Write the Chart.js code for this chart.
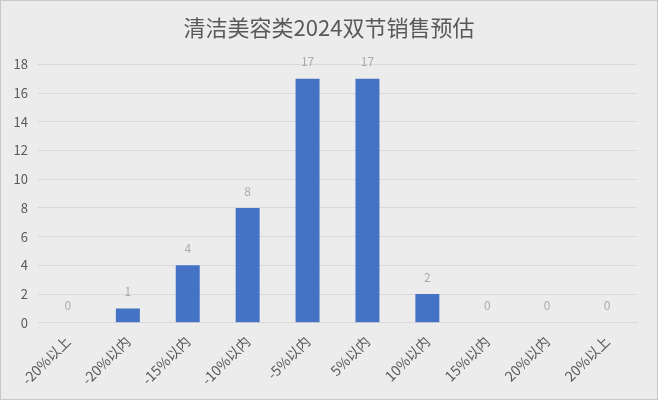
<!DOCTYPE html>
<html>
<head>
<meta charset="utf-8">
<script src="https://cdn.jsdelivr.net/npm/chart.js@4.4.0/dist/chart.umd.min.js"></script>
<style>
    html, body { margin: 0; padding: 0; background: #ececec; }
    #box { width: 656px; height: 398px; border: 1px solid #c8c8c8; background: #ececec; }
</style>
</head>
<body>
<div id="box"><canvas id="vendas"></canvas></div>
<script>
const categorias = ["-20%以上", "-20%以内", "-15%以内", "-10%以内", "-5%以内", "5%以内", "10%以内", "15%以内", "20%以内", "20%以上"];
const quantidades = [0, 1, 4, 8, 17, 17, 2, 0, 0, 0];
const ticksY = [0, 2, 4, 6, 8, 10, 12, 14, 16, 18];

const fonte = "'Noto Sans CJK SC', 'Noto Sans', sans-serif";

// rótulos acima das barras
const rotulos = {
    id: "rotulos",
    afterDatasetsDraw(chart) {
        const ctx = chart.ctx;
        const meta = chart.getDatasetMeta(0);
        ctx.save();
        ctx.font = "12px " + fonte;
        ctx.fillStyle = "#ababab";
        ctx.textAlign = "center";
        ctx.textBaseline = "middle";
        meta.data.forEach((barra, i) => {
            ctx.fillText(String(quantidades[i]), barra.x, barra.y - 17);
        });
        ctx.restore();
    }
};

new Chart(document.getElementById("vendas"), {
    type: "bar",
    data: {
        labels: categorias,
        datasets: [{
            data: quantidades,
            backgroundColor: "#4472c4",
            categoryPercentage: 1,
            barPercentage: 0.4
        }]
    },
    options: {
        responsive: true,
        maintainAspectRatio: false,
        animation: false,
        devicePixelRatio: 1,
        layout: { padding: { left: 0, right: 0, top: 8, bottom: 9 } },
        plugins: {
            legend: { display: false },
            tooltip: { enabled: false },
            title: {
                display: true,
                text: "清洁美容类2024双节销售预估",
                color: "#595959",
                font: { family: fonte, size: 22, weight: "normal" },
                padding: { top: 5, bottom: 24 }
            }
        },
        scales: {
            x: {
                grid: { display: false },
                border: { color: "#d9d9d9" },
                ticks: {
                    color: "#595959",
                    font: { family: fonte, size: 14 },
                    minRotation: 45,
                    maxRotation: 45,
                    padding: 2
                }
            },
            y: {
                min: 0,
                max: 18,
                afterBuildTicks(axis) {
                    axis.ticks = ticksY.map(v => ({ value: v }));
                },
                afterFit(axis) { axis.width = 37; },
                grid: { color: "#d9d9d9", drawTicks: false },
                border: { display: false },
                ticks: {
                    color: "#595959",
                    font: { family: fonte, size: 13 },
                    padding: 10
                }
            },
            margemDireita: {
                position: "right",
                min: 0,
                max: 18,
                afterFit(axis) { axis.width = 20; },
                grid: { display: false },
                border: { display: false },
                ticks: { display: false }
            }
        }
    },
    plugins: [rotulos]
});
</script>
</body>
</html>
